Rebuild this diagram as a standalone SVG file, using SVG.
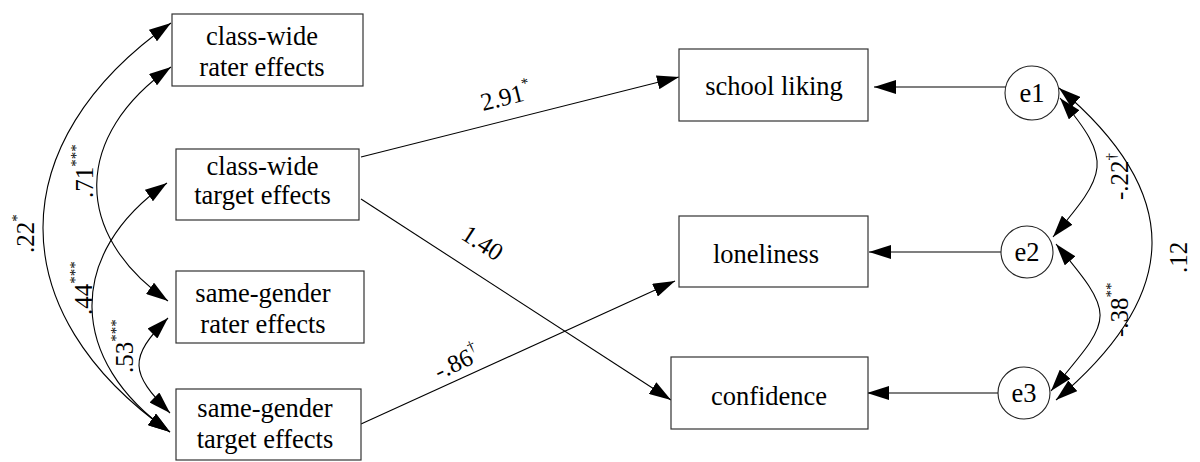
<svg xmlns="http://www.w3.org/2000/svg" width="1200" height="462" viewBox="0 0 1200 462">
<style>
.box{fill:#fff;stroke:#333;stroke-width:1.2}
.ell{fill:#fff;stroke:#222;stroke-width:1.1}
.t{font-family:'Liberation Serif','Times New Roman','DejaVu Serif',serif;font-size:26.5px;fill:#000;text-anchor:middle}
.l{font-family:'Liberation Serif','Times New Roman','DejaVu Serif',serif;font-size:25px;fill:#000}
.s{font-size:15px}
.c{fill:none;stroke:#000;stroke-width:1.1;marker-end:url(#ah)}
.b{fill:none;stroke:#000;stroke-width:1.1;marker-start:url(#ah);marker-end:url(#ah)}
</style>
<defs>
<marker id="ah" markerUnits="userSpaceOnUse" markerWidth="22" markerHeight="14" refX="22" refY="7" orient="auto-start-reverse" viewBox="0 0 22 14">
<path d="M0,0 L22,7 L0,14 z" fill="#000"/>
</marker>
</defs>
<rect width="1200" height="462" fill="#fff"/>
<g id="connectors">
<path class="c" d="M361,157 L679,77"/>
<path class="c" d="M361,199 L671,400"/>
<path class="c" d="M361,424 L675,281"/>
<path class="c" d="M1006,87 L874,87"/>
<path class="c" d="M1001,252 L869,252"/>
<path class="c" d="M998,393 L867,393"/>
<path class="b" d="M171,23 C1,142 0,313 170,432"/>
<path class="b" d="M171,67 C74,135 71,233 168,301"/>
<path class="b" d="M167,183 C65,254 68,361 170,432"/>
<path class="b" d="M168,318 C128,358 130,373 170,413"/>
<path class="b" d="M1059,88 C1185,194 1182,294 1056,400"/>
<path class="b" d="M1060,98 C1114,162 1107,173 1053,237"/>
<path class="b" d="M1056,244 C1118,318 1113,317 1051,391"/>
</g>
<g id="labels">
<text class="l" transform="rotate(-90 34 253)" x="34" y="253">.22<tspan class="s" dy="-12">*</tspan></text>
<text class="l" transform="rotate(-90 93 198)" x="93" y="198">.71<tspan class="s" dy="-12">***</tspan></text>
<text class="l" transform="rotate(-90 92 315)" x="92" y="315">.44<tspan class="s" dy="-12">***</tspan></text>
<text class="l" transform="rotate(-90 133 373)" x="133" y="373">.53<tspan class="s" dy="-12">***</tspan></text>
<text class="l" transform="rotate(-90 1128 200)" x="1128" y="200">-.22<tspan class="s" dy="-12">†</tspan></text>
<text class="l" transform="rotate(-90 1128 337)" x="1128" y="337">-.38<tspan class="s" dy="-12">**</tspan></text>
<text class="l" transform="rotate(-90 1187 273)" x="1187" y="273">.12</text>
<text class="l" transform="rotate(-14 483 111)" x="483" y="111">2.91<tspan class="s" dy="-12">*</tspan></text>
<text class="l" transform="rotate(33 478 250)" x="478" y="250" text-anchor="middle">1.40</text>
<text class="l" transform="rotate(-25 439 380)" x="439" y="380">-.86<tspan class="s" dy="-12">†</tspan></text>
</g>
<g id="cw-rater">
<rect class="box" x="172" y="14" width="191" height="72"/>
<text class="t" x="262" y="45">class-wide</text>
<text class="t" x="262" y="76">rater effects</text>
</g>
<g id="cw-target">
<rect class="box" x="176" y="149" width="183" height="71"/>
<text class="t" x="262.5" y="175">class-wide</text>
<text class="t" x="262.5" y="204">target effects</text>
</g>
<g id="sg-rater">
<rect class="box" x="176" y="271" width="188" height="72"/>
<text class="t" x="263" y="302">same-gender</text>
<text class="t" x="263" y="333">rater effects</text>
</g>
<g id="sg-target">
<rect class="box" x="176" y="389" width="185" height="71"/>
<text class="t" x="265" y="417">same-gender</text>
<text class="t" x="265" y="448">target effects</text>
</g>
<g id="school-liking">
<rect class="box" x="679" y="49" width="189" height="72"/>
<text class="t" x="774" y="95">school liking</text>
</g>
<g id="loneliness">
<rect class="box" x="679" y="216" width="189" height="71"/>
<text class="t" x="766" y="263">loneliness</text>
</g>
<g id="confidence">
<rect class="box" x="671" y="357" width="197" height="72"/>
<text class="t" x="769" y="405">confidence</text>
</g>
<g id="e1">
<circle class="ell" cx="1032" cy="93" r="27"/>
<text class="t" x="1032" y="102">e1</text>
</g>
<g id="e2">
<circle class="ell" cx="1027" cy="252" r="26"/>
<text class="t" x="1027" y="261">e2</text>
</g>
<g id="e3">
<circle class="ell" cx="1024" cy="393" r="26"/>
<text class="t" x="1024" y="402">e3</text>
</g>
</svg>
